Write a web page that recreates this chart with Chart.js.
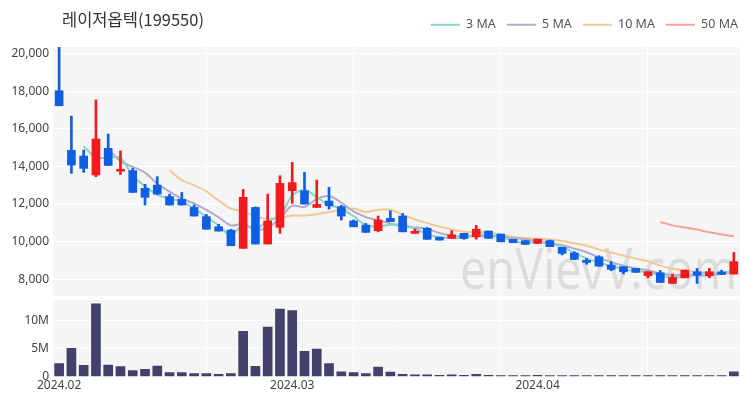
<!DOCTYPE html>
<html>
<head>
<meta charset="utf-8">
<script src="https://cdn.jsdelivr.net/npm/chart.js@4"></script>
<style>
  html, body { margin: 0; padding: 0; background: #fff; }
  #wrap { position: relative; width: 750px; height: 400px; overflow: hidden; }
  #title { position: absolute; left: 62px; top: 7px; font: 16.5px 'Noto Sans CJK KR', sans-serif; color: #333; }
  #price { position: absolute; left: 0; top: 0; }
  #vol { position: absolute; left: 0; top: 298px; }
</style>
</head>
<body>
<div id="wrap">
  <canvas id="price" width="750" height="296"></canvas>
  <canvas id="vol" width="750" height="102"></canvas>
  <div id="title">레이저옵텍(199550)</div>
</div>
<script>
const dates = [
  '2024.02.01','2024.02.02','2024.02.05','2024.02.06','2024.02.07','2024.02.08','2024.02.13','2024.02.14',
  '2024.02.15','2024.02.16','2024.02.19','2024.02.20','2024.02.21','2024.02.22','2024.02.23','2024.02.26',
  '2024.02.27','2024.02.28','2024.02.29','2024.03.04','2024.03.05','2024.03.06','2024.03.07','2024.03.08',
  '2024.03.11','2024.03.12','2024.03.13','2024.03.14','2024.03.15','2024.03.18','2024.03.19','2024.03.20',
  '2024.03.21','2024.03.22','2024.03.25','2024.03.26','2024.03.27','2024.03.28','2024.03.29','2024.04.01',
  '2024.04.02','2024.04.03','2024.04.04','2024.04.05','2024.04.08','2024.04.09','2024.04.11','2024.04.12',
  '2024.04.15','2024.04.16','2024.04.17','2024.04.18','2024.04.19','2024.04.22','2024.04.23','2024.04.24'
];
const openP = [
  18040,14860,14560,13550,14970,13750,13780,12840,13010,12400,12250,11820,11330,10790,10610,9640,
  11820,9870,10760,12710,12710,11820,12160,11860,11100,10880,10580,11240,11360,10440,10710,10230,
  10170,10440,10260,10560,10400,10120,10050,9900,10050,9690,9400,8980,9190,8750,8660,8570,
  8180,8340,7770,8070,8390,8180,8390,8270
];
const highP = [
  20350,16690,14880,17550,15730,14830,13900,13050,13460,12530,12620,11950,11450,10920,10650,12780,
  11850,12530,13510,14220,13690,13280,12890,11930,11150,10970,11360,11640,11500,10670,10750,10230,
  10580,10440,10860,10560,10400,10120,10050,10130,10080,9690,9460,9100,9250,8930,8660,8570,
  8390,8460,8270,8480,8570,8570,8480,9420
];
const lowP = [
  17240,13640,13690,13460,14060,13580,12620,11950,12500,11950,11950,11360,10660,10560,9780,9640,
  9870,9870,10440,12040,12000,11820,11730,11150,10790,10490,10520,11060,10520,10440,10120,10080,
  10170,10120,10130,10170,9990,9940,9850,9900,9730,9290,9050,8790,8690,8450,8280,8360,
  8070,7820,7770,8070,7770,8070,8250,8270
];
const closeP = [
  17240,14080,13900,15470,14060,13850,12620,12360,12530,11950,11950,11360,10660,10560,9780,12360,
  9870,11100,13100,13140,12000,11980,11910,11360,10790,10490,11150,11060,10520,10520,10120,10080,
  10360,10170,10660,10170,9990,9940,9850,10130,9730,9370,9050,8890,8690,8520,8390,8360,
  8390,7820,8090,8480,8210,8390,8250,8930
];
const volume = [
  2.3e6,5.0e6,2.0e6,12.9e6,2.06e6,1.76e6,1.09e6,1.27e6,1.88e6,0.73e6,0.73e6,0.55e6,0.55e6,0.42e6,0.55e6,8.05e6,
  1.82e6,8.8e6,12.0e6,11.7e6,4.5e6,4.9e6,2.3e6,0.85e6,0.73e6,0.55e6,1.7e6,0.79e6,0.42e6,0.3e6,0.3e6,0.24e6,
  0.3e6,0.24e6,0.42e6,0.22e6,0.2e6,0.2e6,0.2e6,0.22e6,0.2e6,0.2e6,0.2e6,0.2e6,0.2e6,0.2e6,0.2e6,0.2e6,
  0.2e6,0.2e6,0.2e6,0.2e6,0.2e6,0.2e6,0.2e6,0.85e6
];
const ma3 = [
  null,null,15073,14483,14477,14460,13510,12943,12503,12280,12143,11753,11323,10860,10333,10900,
  10670,11110,11357,12447,12747,12373,11963,11750,11353,10880,10810,10900,10910,10700,10387,10240,
  10187,10203,10397,10333,10273,10033,9927,9973,9903,9743,9383,9103,8877,8700,8533,8423,
  8380,8190,8100,8130,8260,8360,8283,8523
];
const ma5 = [
  null,null,null,null,14950,14272,13980,13672,13084,12662,12282,12030,11690,11296,10862,10944,
  10646,10734,11242,11914,11842,12264,12426,12078,11608,11306,11140,10970,10802,10748,10674,10460,
  10320,10250,10278,10288,10270,10186,10122,10016,9928,9804,9626,9434,9146,8904,8708,8570,
  8470,8296,8210,8228,8198,8198,8284,8452
];
const ma10 = [
  null,null,null,null,null,null,null,null,null,13806,13277,13005,12681,12190,11762,11613,
  11338,11212,11269,11388,11393,11455,11580,11660,11761,11574,11702,11698,11440,11178,10990,10800,
  10645,10526,10513,10481,10365,10253,10186,10147,10108,10037,9906,9778,9581,9416,9256,9098,
  8952,8721,8557,8468,8384,8334,8290,8331
];
const ma50 = [
  null,null,null,null,null,null,null,null,null,null,null,null,null,null,null,null,
  null,null,null,null,null,null,null,null,null,null,null,null,null,null,null,null,
  null,null,null,null,null,null,null,null,null,null,null,null,null,null,null,null,
  null,11048,10865,10753,10639,10498,10381,10283
];
const priceTicks = [8000, 10000, 12000, 14000, 16000, 18000, 20000];
const volTicks = [0, 5e6, 10e6];

const UP = '#f3191c';
const DOWN = '#0e5fe3';
const FONT = "'Noto Sans', 'Noto Sans CJK KR', sans-serif";
const PANEL = '#f5f5f5';
const vGridIdx = [12, 24, 36, 48];

const panelBg = {
  id: 'panelBg',
  beforeDraw(chart) {
    const { ctx, chartArea: a } = chart;
    ctx.save();
    ctx.fillStyle = PANEL;
    ctx.fillRect(a.left, a.top, a.right - a.left, a.bottom - a.top);
    ctx.restore();
  }
};

const watermark = {
  id: 'watermark',
  beforeDatasetsDraw(chart) {
    const { ctx } = chart;
    ctx.save();
    ctx.translate(460, 289);
    ctx.scale(0.82, 1);
    ctx.font = "57px 'Noto Sans', sans-serif";
    ctx.fillStyle = 'rgba(0,0,0,0.1)';
    ctx.textBaseline = 'alphabetic';
    ctx.fillText('enVievV.com', 0, 0);
    ctx.restore();
  }
};

// push the legend row up a little, above the plot area
const legendGap = {
  id: 'legendGap',
  beforeLayout(chart) {
    const lg = chart.legend;
    if (lg && !lg._gapPatched) {
      const fit = lg.fit;
      lg.fit = function () { fit.call(this); this.height += 6; };
      lg._gapPatched = true;
    }
  }
};

const isUp = (i) => closeP[i] >= openP[i];
const candleColors = dates.map((d, i) => isUp(i) ? UP : DOWN);
const gridX = (c) => vGridIdx.indexOf(c.index) >= 0 ? '#ffffff' : 'rgba(0,0,0,0)';

const maLine = (label, data, color) => ({
  type: 'line', label, data, borderColor: color, backgroundColor: color,
  borderWidth: 2, pointRadius: 0, tension: 0.3, order: 3
});

new Chart(document.getElementById('price'), {
  type: 'bar',
  data: {
    labels: dates,
    datasets: [
      maLine('3 MA', ma3, '#86d4c8'),
      maLine('5 MA', ma5, '#b5a9cc'),
      maLine('10 MA', ma10, '#f0ca96'),
      maLine('50 MA', ma50, '#f6a594'),
      {
        label: 'wick', data: dates.map((d, i) => [lowP[i], highP[i]]),
        backgroundColor: candleColors, barThickness: 2, grouped: false, order: 2, minBarLength: 1
      },
      {
        label: 'body', data: dates.map((d, i) => [openP[i], closeP[i]]),
        backgroundColor: candleColors, barThickness: 8, grouped: false, order: 1, minBarLength: 2
      }
    ]
  },
  options: {
    responsive: false,
    animation: false,
    layout: { padding: { top: 4, right: 1, bottom: 0, left: 0 } },
    plugins: {
      tooltip: { enabled: false },
      legend: {
        position: 'top', align: 'end',
        labels: {
          usePointStyle: true, pointStyle: 'line', pointStyleWidth: 29, boxHeight: 12,
          color: '#555', padding: 11, font: { family: FONT, size: 12.5 },
          filter: (item) => item.text.indexOf('MA') >= 0
        }
      }
    },
    scales: {
      x: {
        offset: true,
        afterFit: (s) => { s.paddingRight = 10; },
        ticks: { display: false, autoSkip: false },
        border: { display: false },
        grid: { offset: false, drawTicks: false, lineWidth: 1, color: gridX }
      },
      y: {
        min: 7100, max: 20370,
        afterFit: (s) => { s.width = 53; s.paddingTop = 47; s.paddingBottom = 0; },
        afterBuildTicks: (s) => { s.ticks = priceTicks.map(v => ({ value: v })); },
        border: { display: false },
        grid: { color: '#ffffff', drawTicks: false, lineWidth: 1 },
        ticks: {
          padding: 4, color: '#444', font: { family: FONT, size: 12 },
          callback: (v) => v.toLocaleString('en-US')
        }
      }
    }
  },
  plugins: [panelBg, watermark, legendGap]
});

new Chart(document.getElementById('vol'), {
  type: 'bar',
  data: {
    labels: dates,
    datasets: [{
      label: 'volume', data: volume, backgroundColor: '#41416b', barThickness: 9
    }]
  },
  options: {
    responsive: false,
    animation: false,
    layout: { padding: { top: 2, right: 10, bottom: 5, left: 0 } },
    plugins: { tooltip: { enabled: false }, legend: { display: false } },
    scales: {
      x: {
        offset: true,
        border: { display: false },
        grid: { offset: false, drawTicks: false, color: gridX },
        ticks: {
          autoSkip: false, maxRotation: 0, padding: 2, color: '#444',
          font: { family: FONT, size: 12 },
          callback: (v, i) => (i === 0 || dates[i].slice(0, 7) !== dates[i - 1].slice(0, 7)) ? dates[i].slice(0, 7) : ''
        }
      },
      y: {
        min: 0, max: 13.6e6,
        afterFit: (s) => { s.width = 53; s.paddingTop = 2; s.paddingBottom = 0; },
        afterBuildTicks: (s) => { s.ticks = volTicks.map(v => ({ value: v })); },
        border: { display: false },
        grid: { color: '#ffffff', drawTicks: false },
        ticks: {
          padding: 4, color: '#444', font: { family: FONT, size: 12 },
          callback: (v) => v === 0 ? '0' : (v / 1e6) + 'M'
        }
      }
    }
  },
  plugins: [panelBg]
});
</script>
</body>
</html>
